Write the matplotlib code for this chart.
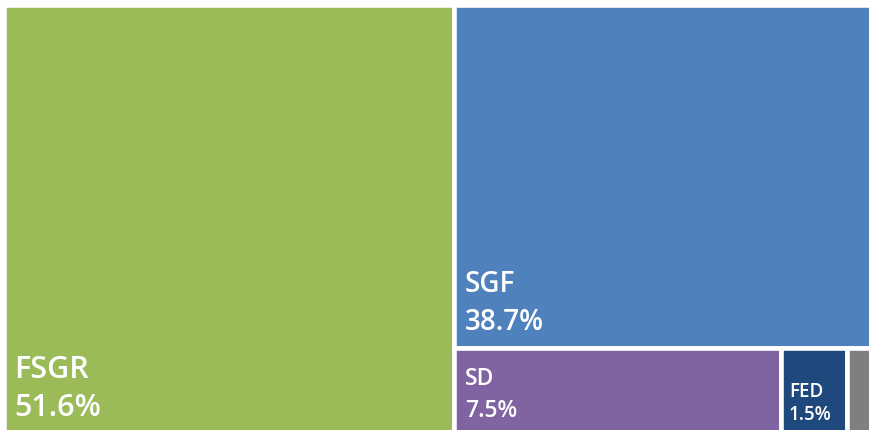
import matplotlib
matplotlib.use("Agg")
import matplotlib.pyplot as plt
from matplotlib.patches import Rectangle

plt.rcParams["font.family"] = ["Open Sans", "DejaVu Sans"]

labels = ["FSGR", "SGF", "SD", "FED", "Other"]
shares = [51.6, 38.7, 7.5, 1.5, 0.7]
colors = ["#9BBB59", "#4F81BD", "#8064A2", "#1F497D", "#7F7F7F"]
font_sizes = [22, 20, 16.5, 13.5, 0]

W, H = 869, 430
fig = plt.figure(figsize=(W / 100, H / 100), dpi=100)
# axes slightly larger than the picture: the chart is cropped at right/bottom
ax = fig.add_axes([3.75 / W, 1 - (4.75 + 429) / H, 873.5 / W, 429 / H])
ax.set_xlim(0, 1)
ax.set_ylim(0, 1)
ax.axis("off")

total = sum(shares)
# simple treemap: biggest on the left, next on top-right, the rest on a bottom row
rects = []
w0 = shares[0] / total
rects.append((0, 0, w0, 1))
rest = total - shares[0]
h1 = shares[1] / rest
rects.append((w0, 1 - h1, 1 - w0, h1))
row = sum(shares[2:])
x = w0
for s in shares[2:]:
    w = (1 - w0) * s / row
    rects.append((x, 0, w, 1 - h1))
    x += w

# text offsets from each box's lower-left corner, in points: (x, value baseline, label baseline)
offsets = [(7.6, 12.8, 40.0), (7.2, 13.0, 40.3), (7.6, 12.0, 35.0), (5.5, 9.9, 26.5), None]

for (x0, y0, w, h), lab, val, col, fs, off in zip(rects, labels, shares, colors, font_sizes, offsets):
    ax.add_patch(Rectangle((x0, y0), w, h, facecolor=col, edgecolor="white", linewidth=3.3))
    if off:
        dx, dv, dl = off
        ax.annotate(f"{val:.1f}%", xy=(x0, y0), xytext=(dx, dv), textcoords="offset points",
                    ha="left", va="baseline", color="white", fontsize=fs, fontweight="semibold")
        ax.annotate(lab, xy=(x0, y0), xytext=(dx, dl), textcoords="offset points",
                    ha="left", va="baseline", color="white", fontsize=fs, fontweight="semibold")

fig.savefig("out.png", dpi=100)
